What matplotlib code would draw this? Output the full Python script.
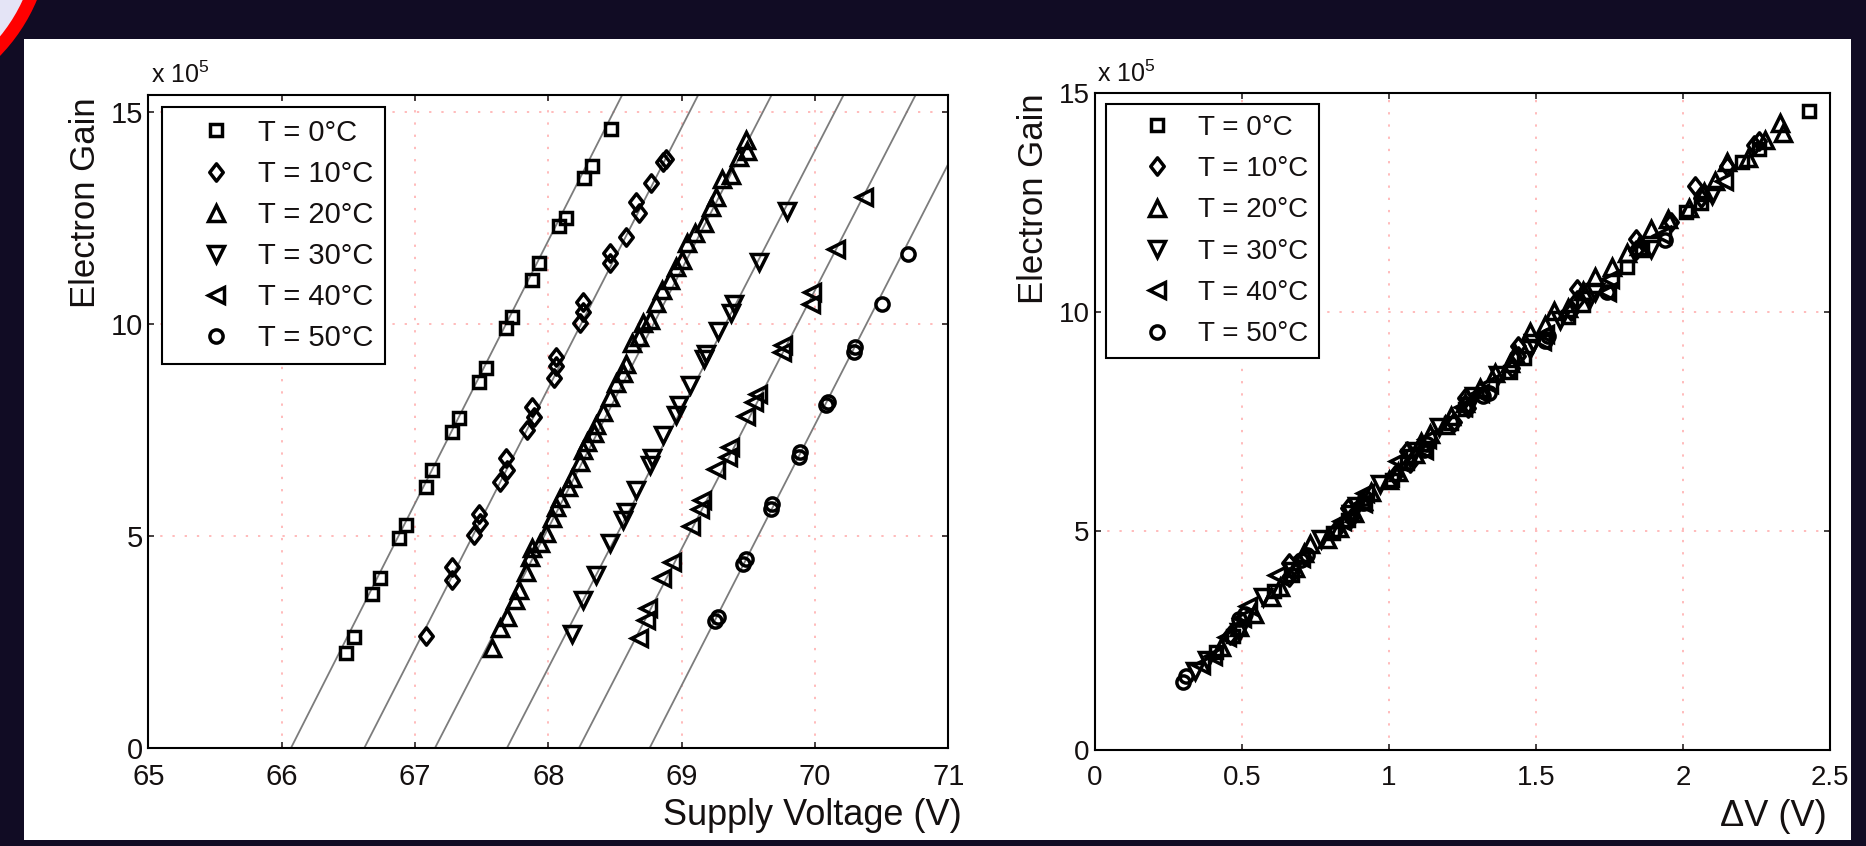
import matplotlib
matplotlib.use('Agg')
import matplotlib.pyplot as plt
from matplotlib.patches import Rectangle, Circle
from matplotlib.path import Path

plt.rcParams['font.family'] = ['Liberation Sans', 'DejaVu Sans']
plt.rcParams['mathtext.fontset'] = 'custom'
plt.rcParams['mathtext.rm'] = 'Liberation Sans'

# ---------------- data ----------------
temps = [0, 10, 20, 30, 40, 50]
series_labels = ['T = 0°C', 'T = 10°C', 'T = 20°C', 'T = 30°C', 'T = 40°C', 'T = 50°C']

# left panel: supply voltage (V) and gain (x1e5)
v_T0 = [66.48, 66.54, 66.68, 66.74, 66.88, 66.93, 67.08, 67.13, 67.28, 67.33, 67.48,
        67.53, 67.68, 67.73, 67.88, 67.93, 68.08, 68.13, 68.27, 68.33, 68.47]
g_T0 = [2.24, 2.61, 3.63, 4.00, 4.95, 5.26, 6.16, 6.56, 7.46, 7.78, 8.64,
        8.96, 9.90, 10.17, 11.04, 11.43, 12.30, 12.49, 13.44, 13.73, 14.59]

v_T10 = [67.08, 67.28, 67.28, 67.44, 67.48, 67.49, 67.64, 67.68, 67.69, 67.84, 67.88, 67.89, 68.04,
         68.06, 68.06, 68.24, 68.26, 68.26, 68.46, 68.46, 68.58, 68.66, 68.68, 68.77, 68.86, 68.88]
g_T10 = [2.63, 3.96, 4.28, 5.02, 5.53, 5.30, 6.28, 6.83, 6.56, 7.50, 8.05, 7.81, 8.72,
         9.23, 9.00, 10.02, 10.53, 10.29, 11.67, 11.43, 12.06, 12.88, 12.61, 13.33, 13.83, 13.90]

v_T20 = [67.58, 67.64, 67.69, 67.75, 67.78, 67.83, 67.86, 67.88, 67.94, 67.98, 68.03, 68.06, 68.09,
         68.15, 68.18, 68.24, 68.26, 68.29, 68.34, 68.36, 68.41, 68.46, 68.51, 68.56, 68.58, 68.63,
         68.68, 68.71, 68.76, 68.81, 68.85, 68.91, 68.96, 69.00, 69.04, 69.10, 69.17, 69.22, 69.26,
         69.30, 69.37, 69.43, 69.49, 69.48]
g_T20 = [2.35, 2.82, 3.10, 3.49, 3.73, 4.16, 4.51, 4.71, 4.83, 5.06, 5.42, 5.69, 5.89,
         6.16, 6.36, 6.75, 7.03, 7.22, 7.42, 7.62, 7.93, 8.27, 8.60, 8.84, 9.05, 9.54,
         9.70, 10.02, 10.09, 10.49, 10.80, 11.04, 11.35, 11.51, 11.90, 12.14, 12.38, 12.75, 13.00,
         13.42, 13.52, 13.93, 14.09, 14.33]

v_T30 = [68.18, 68.26, 68.36, 68.46, 68.56, 68.58, 68.66, 68.76, 68.78, 68.86, 68.96, 68.98,
         69.06, 69.17, 69.18, 69.27, 69.37, 69.39, 69.58, 69.79]
g_T30 = [2.70, 3.49, 4.08, 4.83, 5.38, 5.57, 6.08, 6.67, 6.83, 7.38, 7.85, 8.09,
         8.57, 9.17, 9.30, 9.83, 10.27, 10.47, 11.45, 12.67]

v_T40 = [68.68, 68.73, 68.75, 68.85, 68.93, 69.07, 69.14, 69.15, 69.26, 69.35, 69.36, 69.48,
         69.54, 69.57, 69.75, 69.76, 69.97, 69.98, 70.16, 70.37]
g_T40 = [2.59, 3.02, 3.30, 4.00, 4.39, 5.23, 5.64, 5.86, 6.59, 6.86, 7.10, 7.83,
         8.16, 8.36, 9.34, 9.50, 10.47, 10.76, 11.77, 12.99]

v_T50 = [69.25, 69.27, 69.46, 69.48, 69.67, 69.68, 69.88, 69.89, 70.08, 70.10, 70.29, 70.30,
         70.50, 70.70]
g_T50 = [3.00, 3.10, 4.34, 4.46, 5.64, 5.76, 6.86, 6.98, 8.08, 8.16, 9.34, 9.46,
         10.47, 11.65]

# fitted lines (breakdown voltage, slope in 1e5 per volt)
fit_vbd = [66.07, 66.62, 67.15, 67.69, 68.23, 68.76]
fit_slope = [6.2, 6.15, 6.1, 6.1, 6.1, 6.15]

# right panel: overvoltage dV (V) and gain (x1e5)
dv_T0 = [0.41, 0.47, 0.61, 0.67, 0.81, 0.86, 1.01, 1.06, 1.21, 1.26, 1.41,
         1.46, 1.61, 1.66, 1.81, 1.86, 2.01, 2.06, 2.20, 2.26, 2.43]
gr_T0 = g_T0
dv_T10 = [0.46, 0.66, 0.66, 0.82, 0.86, 0.87, 1.02, 1.06, 1.07, 1.22, 1.26, 1.27, 1.42,
          1.44, 1.44, 1.62, 1.64, 1.64, 1.84, 1.84, 1.96, 2.04, 2.06, 2.15, 2.24, 2.26]
gr_T10 = g_T10
dv_T20 = [0.43, 0.49, 0.54, 0.60, 0.63, 0.68, 0.71, 0.73, 0.79, 0.83, 0.88, 0.91, 0.94,
          1.00, 1.03, 1.09, 1.11, 1.14, 1.19, 1.21, 1.26, 1.31, 1.36, 1.41, 1.43, 1.48,
          1.53, 1.56, 1.61, 1.66, 1.70, 1.76, 1.81, 1.85, 1.89, 1.95, 2.02, 2.07, 2.11,
          2.15, 2.22, 2.28, 2.34, 2.33]
gr_T20 = g_T20
dv_T30 = [0.49, 0.57, 0.67, 0.77, 0.87, 0.89, 0.97, 1.07, 1.09, 1.17, 1.27, 1.29,
          1.37, 1.48, 1.49, 1.58, 1.68, 1.70, 1.89, 2.10, 0.34, 0.38]
gr_T30 = g_T30 + [1.80, 2.05]
dv_T40 = [0.45, 0.50, 0.52, 0.62, 0.70, 0.84, 0.91, 0.92, 1.03, 1.12, 1.13, 1.25,
          1.31, 1.34, 1.52, 1.53, 1.74, 1.75, 1.93, 2.14, 0.36, 0.40]
gr_T40 = g_T40 + [1.95, 2.15]
dv_T50 = [0.49, 0.51, 0.70, 0.72, 0.91, 0.92, 1.12, 1.13, 1.32, 1.34, 1.53, 1.54,
          1.74, 1.94, 0.30, 0.31]
gr_T50 = g_T50 + [1.55, 1.70]

left_x = [v_T0, v_T10, v_T20, v_T30, v_T40, v_T50]
left_y = [g_T0, g_T10, g_T20, g_T30, g_T40, g_T50]
right_x = [dv_T0, dv_T10, dv_T20, dv_T30, dv_T40, dv_T50]
right_y = [gr_T0, gr_T10, gr_T20, gr_T30, gr_T40, gr_T50]

# ---------------- style ----------------
W, H = 1866, 846
TXT = '#141010'
diamond = Path([(0, 1), (0.78, 0), (0, -1), (-0.78, 0), (0, 1)],
               [Path.MOVETO, Path.LINETO, Path.LINETO, Path.LINETO, Path.CLOSEPOLY])
markers = ['s', diamond, '^', 'v', '<', 'o']
msizes = [8.5, 12.5, 11, 11, 11, 9.5]
MEW = 2.5

fig = plt.figure(figsize=(W / 100, H / 100), dpi=100, facecolor='#110c24')

# background decoration (pixel coordinates)
bg = fig.add_axes([0, 0, 1, 1])
bg.set_xlim(0, W)
bg.set_ylim(H, 0)
bg.axis('off')
bg.add_patch(Circle((-130, -70), 181, fc='#ff0000', ec='none'))
bg.add_patch(Circle((-130, -70), 168, fc='#e4e4f6', ec='none'))
bg.add_patch(Rectangle((24, 39), 1851 - 24, 840 - 39, fc='white', ec='none'))


def style_axes(ax, tick_size):
    ax.set_facecolor('white')
    for sp in ax.spines.values():
        sp.set_linewidth(1.5)
        sp.set_color('black')
    ax.tick_params(direction='in', length=4.5, width=1.1, top=True, right=True,
                   labelsize=tick_size, colors=TXT)
    ax.tick_params(axis='x', pad=11)
    ax.tick_params(axis='y', pad=4)
    ax.grid(True, color='#ffa8a8', linestyle=(0, (1.5, 6.5)), linewidth=1.1)
    ax.set_axisbelow(True)


def add_legend(ax, x0, y1, fs, spacing, bpad):
    leg = ax.legend(loc='upper left', bbox_to_anchor=(x0, y1), borderaxespad=0,
                    fontsize=fs, frameon=True, fancybox=False, framealpha=1,
                    edgecolor='black', numpoints=1, handlelength=2.9,
                    handletextpad=0.0, labelspacing=spacing, borderpad=bpad)
    leg.get_frame().set_linewidth(1.5)
    for t in leg.get_texts():
        t.set_color(TXT)
    return leg


def draw_series(ax, xs_list, ys_list):
    for xs, ys, mk, ms, lab in zip(xs_list, ys_list, markers, msizes, series_labels):
        ax.plot(xs, ys, linestyle='none', marker=mk, markersize=ms,
                markerfacecolor='none', markeredgecolor='black', markeredgewidth=MEW,
                zorder=3, label=lab)


# ---------------- left panel ----------------
axL = fig.add_axes([148.3 / W, (H - 748) / H, 800 / W, 653 / H])
style_axes(axL, 21)
for vbd, sl in zip(fit_vbd, fit_slope):
    axL.plot([vbd, vbd + 16 / sl], [0, 16], color='#7c7c7c', lw=1.3, zorder=2,
             label='_nolegend_')
draw_series(axL, left_x, left_y)
axL.set_xlim(65, 71)
axL.set_ylim(0, 15.4)
axL.set_xticks([65, 66, 67, 68, 69, 70, 71])
axL.set_yticks([0, 5, 10, 15])
axL.set_xlabel('Supply Voltage (V)', fontsize=26, color=TXT, loc='right')
axL.set_ylabel('Electron Gain', fontsize=25, color=TXT, loc='top')
axL.xaxis.set_label_coords(1.017, -0.076)
axL.yaxis.set_label_coords(-0.058, 0.997)
axL.text(0.003, 1.018, r'x 10$^{5}$', transform=axL.transAxes, fontsize=18,
         color=TXT, ha='left', va='baseline')
add_legend(axL, 0.0168, 0.9816, 21, 0.45, 0.4)

# ---------------- right panel ----------------
axR = fig.add_axes([1095 / W, (H - 750) / H, 735 / W, 656.7 / H])
style_axes(axR, 20)
draw_series(axR, right_x, right_y)
axR.set_xlim(0, 2.5)
axR.set_ylim(0, 15)
axR.set_xticks([0, 0.5, 1, 1.5, 2, 2.5])
axR.set_xticklabels(['0', '0.5', '1', '1.5', '2', '2.5'])
axR.set_yticks([0, 5, 10, 15])
axR.set_xlabel('ΔV (V)', fontsize=26, color=TXT, loc='right')
axR.set_ylabel('Electron Gain', fontsize=25, color=TXT, loc='top')
axR.xaxis.set_label_coords(0.996, -0.074)
axR.yaxis.set_label_coords(-0.061, 1.0)
axR.text(0.003, 1.0177, r'x 10$^{5}$', transform=axR.transAxes, fontsize=18,
         color=TXT, ha='left', va='baseline')
add_legend(axR, 0.015, 0.9840, 20, 0.55, 0.4)

fig.savefig('out.png', dpi=100, facecolor=fig.get_facecolor())
